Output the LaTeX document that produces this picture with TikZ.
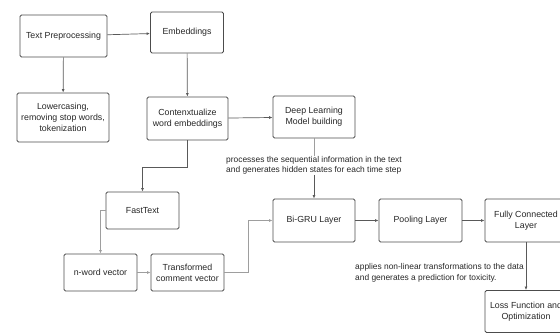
\documentclass[tikz,border=0pt]{standalone}
\usepackage{fontspec}
\setmainfont{Liberation Sans}
\usetikzlibrary{arrows.meta}
\begin{document}
\begin{tikzpicture}[x=1pt, y=-1pt,
	box/.style={rectangle, rounded corners=1.5pt, draw=black!70, line width=0.9pt, align=center, inner sep=0pt, text=black!85, font=\fontsize{8.8}{10.8}\selectfont},
	link/.style={draw=black!65, line width=0.7pt, -{Latex[length=3.5pt,width=3pt]}},
	faint/.style={link, draw=black!38},
	note/.style={inner sep=0pt, align=left, text=black!85, font=\fontsize{8.4}{10.6}\selectfont}]
	\pgfmathsetmacro{\bw}{82}
	\pgfmathsetmacro{\bh}{43}

	\clip (0,0) rectangle (560,333);

	%Preprocessing and embeddings
	\draw (63.5,36) node[box, minimum width=87pt, minimum height=42pt] (tpre) {Text Preprocessing};
	\draw (187,32.5) node[box, minimum width=73pt, minimum height=41pt] (emb) {Embeddings};
	\draw (63,117.5) node[box, minimum width=92pt, minimum height=49pt] (lower) {Lowercasing,\\removing stop words,\\tokenization};
	\draw (187.5,118.5) node[box, minimum width=81pt, minimum height=\bh pt] (ctx) {Contenxtualize\\word embeddings};
	\draw (314,117) node[box, minimum width=\bw pt, minimum height=42pt] (dlm) {Deep Learning\\Model building};

	%FastText branch
	\draw (142.5,210.5) node[box, minimum width=73pt, minimum height=37pt] (fast) {FastText};
	\draw (100.5,272.5) node[box, minimum width=73pt, minimum height=37pt] (nword) {n-word vector};
	\draw (187.5,272.5) node[box, minimum width=73pt, minimum height=37pt] (trans) {Transformed\\comment vector};

	%Network layers
	\draw (314,220.5) node[box, minimum width=\bw pt, minimum height=\bh pt] (bigru) {Bi-GRU Layer};
	\draw (420.5,220.5) node[box, minimum width=83pt, minimum height=\bh pt] (pool) {Pooling Layer};
	\draw (526,220.5) node[box, minimum width=\bw pt, minimum height=\bh pt] (fc) {Fully Connected\\Layer};
	\draw (526,311.5) node[box, minimum width=\bw pt, minimum height=42pt] (loss) {Loss Function and\\Optimization};

	%Notes on the connectors
	\draw (314,165.5) node[note] (seq) {processes the sequential information in the text\\and generates hidden states for each time step};
	\draw (355,273) node[note, anchor=west] (tox) {applies non-linear transformations to the data\\and generates a prediction for toxicity.};

	%Arrows
	\draw[link] (tpre) -- (emb);
	\draw[link] (tpre) -- (lower);
	\draw[link] (emb) -- (ctx);
	\draw[link] (ctx) -- (dlm);
	\draw[link] (ctx.south) -- ++(0,27) -| (fast.north);
	\draw[faint] (fast.west) -| (nword.north);
	\draw[faint] (nword) -- (trans);
	\draw[faint] (trans.east) -- ([xshift=24pt]trans.east) |- (bigru.west);
	\draw[faint, -] (dlm) -- (seq);
	\draw[link] (seq) -- (bigru);
	\draw[link] (bigru) -- (pool);
	\draw[link] (pool) -- (fc);
	\draw[link] (fc) -- (loss);
\end{tikzpicture}
\end{document}
